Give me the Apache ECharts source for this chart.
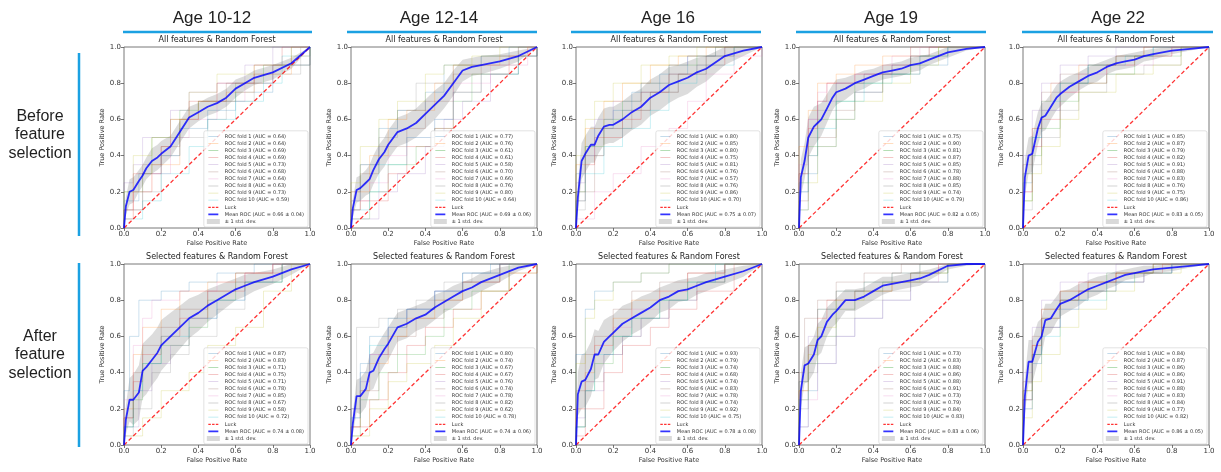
<!DOCTYPE html>
<html><head><meta charset="utf-8">
<script src="https://cdn.jsdelivr.net/npm/echarts@6/dist/echarts.min.js"></script>
<style>html,body{margin:0;padding:0;background:#fff}#c{width:1221px;height:472px}</style>
</head><body><div id="c"></div>
<script>
// ---------- text ----------
const ageLabels = ['Age 10-12', 'Age 12-14', 'Age 16', 'Age 19', 'Age 22'];
const rowLabels = ['Before\nfeature\nselection', 'After\nfeature\nselection'];
const panelTitles = ['All features & Random Forest', 'Selected features & Random Forest'];
const tickValues = [0, 0.2, 0.4, 0.6, 0.8, 1.0];
const luck = [[0, 0], [1, 1]];

// ---------- mean ROC (common FPR grid) ----------
const fpr = [0, 0.01, 0.03, 0.05, 0.08, 0.1, 0.12, 0.15, 0.18, 0.2, 0.25, 0.3, 0.35, 0.4, 0.45, 0.5, 0.55, 0.6, 0.65, 0.7, 0.8, 0.9, 1.0];

const meanTprBefore = [
  [0,0.12,0.2,0.21,0.26,0.29,0.33,0.37,0.39,0.41,0.45,0.53,0.61,0.64,0.67,0.69,0.72,0.77,0.8,0.83,0.86,0.91,1],
  [0,0.11,0.21,0.22,0.25,0.27,0.32,0.38,0.42,0.46,0.53,0.55,0.58,0.63,0.68,0.73,0.8,0.87,0.89,0.9,0.92,0.95,1],
  [0,0.17,0.37,0.41,0.46,0.46,0.51,0.56,0.57,0.57,0.6,0.64,0.67,0.72,0.75,0.79,0.81,0.83,0.86,0.88,0.95,0.98,1],
  [0,0.28,0.37,0.5,0.56,0.58,0.6,0.66,0.72,0.75,0.77,0.8,0.82,0.84,0.86,0.87,0.88,0.9,0.91,0.93,0.97,0.99,1],
  [0,0.28,0.4,0.41,0.55,0.61,0.62,0.67,0.72,0.74,0.78,0.81,0.84,0.86,0.89,0.91,0.92,0.93,0.95,0.96,0.98,0.99,1]
];
const stdTprBefore = [
  [0,0.05,0.07,0.07,0.06,0.06,0.06,0.07,0.07,0.07,0.06,0.06,0.06,0.05,0.05,0.05,0.05,0.05,0.04,0.04,0.04,0.03,0],
  [0,0.05,0.07,0.07,0.07,0.08,0.08,0.08,0.08,0.08,0.08,0.08,0.08,0.08,0.08,0.07,0.07,0.06,0.05,0.05,0.04,0.03,0],
  [0,0.08,0.1,0.1,0.1,0.1,0.1,0.1,0.1,0.1,0.1,0.1,0.1,0.1,0.1,0.1,0.09,0.09,0.08,0.07,0.05,0.03,0],
  [0,0.1,0.1,0.11,0.11,0.1,0.09,0.08,0.07,0.07,0.06,0.05,0.05,0.04,0.04,0.04,0.04,0.04,0.04,0.03,0.03,0.01,0],
  [0,0.1,0.1,0.1,0.09,0.08,0.08,0.07,0.07,0.07,0.06,0.05,0.05,0.05,0.04,0.04,0.04,0.04,0.03,0.03,0.02,0.01,0]
];
const meanTprAfter = [
  [0,0.14,0.25,0.25,0.29,0.41,0.43,0.47,0.51,0.55,0.6,0.65,0.7,0.73,0.77,0.8,0.83,0.86,0.88,0.9,0.93,0.97,1],
  [0,0.12,0.27,0.27,0.31,0.4,0.41,0.48,0.53,0.56,0.65,0.67,0.7,0.72,0.76,0.79,0.82,0.85,0.87,0.9,0.94,0.98,1],
  [0,0.28,0.35,0.36,0.42,0.5,0.5,0.57,0.6,0.62,0.67,0.7,0.73,0.76,0.8,0.82,0.85,0.86,0.88,0.9,0.93,0.96,1],
  [0,0.3,0.44,0.45,0.5,0.58,0.6,0.68,0.72,0.74,0.8,0.8,0.82,0.85,0.88,0.89,0.9,0.91,0.92,0.94,0.99,1,1],
  [0,0.27,0.46,0.46,0.57,0.6,0.69,0.7,0.75,0.78,0.8,0.83,0.86,0.88,0.9,0.92,0.94,0.95,0.96,0.97,0.98,0.99,1]
];
const stdTprAfter = [
  [0,0.08,0.12,0.14,0.15,0.15,0.15,0.14,0.14,0.14,0.13,0.12,0.11,0.1,0.09,0.08,0.07,0.06,0.06,0.05,0.04,0.03,0],
  [0,0.06,0.09,0.1,0.1,0.1,0.1,0.09,0.09,0.09,0.08,0.08,0.07,0.07,0.07,0.06,0.06,0.05,0.05,0.05,0.04,0.02,0],
  [0,0.12,0.15,0.15,0.15,0.14,0.13,0.12,0.11,0.1,0.1,0.09,0.09,0.08,0.07,0.07,0.06,0.06,0.05,0.05,0.04,0.03,0],
  [0,0.1,0.1,0.1,0.1,0.09,0.09,0.08,0.07,0.07,0.06,0.06,0.05,0.05,0.05,0.04,0.04,0.04,0.04,0.03,0.02,0.01,0],
  [0,0.1,0.12,0.12,0.11,0.1,0.09,0.08,0.07,0.07,0.06,0.06,0.05,0.05,0.04,0.04,0.03,0.03,0.03,0.02,0.02,0.01,0]
];

// ---------- legend AUC values ----------
const aucBefore = [
  ['0.64','0.64','0.69','0.69','0.73','0.68','0.64','0.63','0.73','0.59'],
  ['0.77','0.76','0.61','0.61','0.58','0.70','0.66','0.76','0.80','0.64'],
  ['0.80','0.85','0.80','0.75','0.81','0.76','0.57','0.76','0.86','0.70'],
  ['0.75','0.90','0.81','0.87','0.85','0.78','0.88','0.85','0.74','0.79'],
  ['0.85','0.87','0.79','0.82','0.91','0.88','0.83','0.76','0.75','0.86']
];
const aucAfter = [
  ['0.87','0.83','0.71','0.75','0.71','0.78','0.85','0.67','0.58','0.72'],
  ['0.80','0.74','0.67','0.67','0.76','0.74','0.78','0.82','0.62','0.78'],
  ['0.93','0.79','0.74','0.68','0.74','0.83','0.78','0.74','0.92','0.75'],
  ['0.73','0.83','0.88','0.86','0.88','0.91','0.73','0.79','0.84','0.83'],
  ['0.84','0.87','0.86','0.86','0.91','0.88','0.83','0.84','0.77','0.82']
];
const meanAucBefore = ['0.66 ± 0.04', '0.69 ± 0.06', '0.75 ± 0.07', '0.82 ± 0.05', '0.83 ± 0.05'];
const meanAucAfter = ['0.74 ± 0.08', '0.74 ± 0.06', '0.78 ± 0.08', '0.83 ± 0.06', '0.86 ± 0.05'];

// ---------- fold ROC curves (flat x,y corner pairs) ----------
const foldsBefore = [
 [
  [0,0, 0,0.15, 0.08,0.3, 0.2,0.4, 0.3,0.55, 0.45,0.65, 0.6,0.75, 0.8,0.9, 1,1],
  [0,0, 0,0.05, 0.05,0.2, 0.15,0.35, 0.3,0.6, 0.4,0.7, 0.55,0.75, 0.7,0.85, 0.9,0.95, 1,1],
  [0,0, 0,0.2, 0.1,0.3, 0.15,0.5, 0.3,0.65, 0.4,0.7, 0.6,0.8, 0.75,0.9, 1,1],
  [0,0, 0,0.1, 0.05,0.3, 0.2,0.45, 0.25,0.6, 0.35,0.7, 0.5,0.8, 0.7,0.9, 0.85,1, 1,1],
  [0,0, 0,0.25, 0.05,0.35, 0.1,0.5, 0.25,0.65, 0.35,0.75, 0.5,0.8, 0.65,0.9, 0.8,1, 1,1],
  [0,0, 0,0.1, 0.1,0.35, 0.2,0.45, 0.3,0.6, 0.4,0.7, 0.55,0.8, 0.8,0.9, 0.9,1, 1,1],
  [0,0, 0,0.05, 0.05,0.2, 0.15,0.3, 0.25,0.5, 0.35,0.6, 0.5,0.7, 0.65,0.8, 0.8,0.9, 1,1],
  [0,0, 0,0.1, 0.1,0.2, 0.2,0.4, 0.3,0.5, 0.45,0.6, 0.55,0.7, 0.7,0.85, 0.95,1, 1,1],
  [0,0, 0,0.2, 0.05,0.4, 0.15,0.5, 0.25,0.6, 0.35,0.75, 0.5,0.85, 0.7,0.9, 0.9,1, 1,1],
  [0,0, 0,0.05, 0.1,0.15, 0.2,0.3, 0.35,0.45, 0.45,0.6, 0.6,0.7, 0.75,0.8, 0.85,0.95, 1,1]
 ],
 [
  [0,0, 0,0.15, 0.05,0.35, 0.15,0.55, 0.25,0.65, 0.4,0.75, 0.5,0.9, 0.7,0.95, 0.85,1, 1,1],
  [0,0, 0,0.2, 0.1,0.4, 0.2,0.6, 0.3,0.65, 0.45,0.8, 0.55,0.9, 0.8,0.95, 0.95,1, 1,1],
  [0,0, 0,0.05, 0.1,0.2, 0.2,0.35, 0.35,0.45, 0.45,0.55, 0.55,0.7, 0.65,0.85, 0.9,0.95, 1,1],
  [0,0, 0,0.1, 0.05,0.15, 0.2,0.3, 0.3,0.45, 0.45,0.55, 0.55,0.75, 0.7,0.85, 0.85,0.95, 1,1],
  [0,0, 0,0.05, 0.15,0.2, 0.25,0.3, 0.4,0.45, 0.5,0.6, 0.6,0.7, 0.75,0.85, 0.9,0.95, 1,1],
  [0,0, 0,0.1, 0.05,0.3, 0.15,0.45, 0.3,0.55, 0.4,0.7, 0.55,0.85, 0.7,0.9, 0.9,1, 1,1],
  [0,0, 0,0.15, 0.1,0.25, 0.2,0.4, 0.3,0.5, 0.45,0.6, 0.55,0.8, 0.75,0.9, 0.95,1, 1,1],
  [0,0, 0,0.2, 0.05,0.35, 0.15,0.5, 0.25,0.65, 0.35,0.8, 0.55,0.9, 0.7,0.95, 0.9,1, 1,1],
  [0,0, 0,0.25, 0.05,0.45, 0.15,0.6, 0.25,0.7, 0.4,0.85, 0.5,0.9, 0.65,0.95, 0.8,1, 1,1],
  [0,0, 0,0.1, 0.1,0.2, 0.15,0.35, 0.3,0.5, 0.45,0.6, 0.55,0.75, 0.7,0.85, 0.9,0.95, 1,1]
 ],
 [
  [0,0, 0,0.3, 0.05,0.45, 0.1,0.55, 0.2,0.65, 0.3,0.75, 0.45,0.85, 0.6,0.95, 0.8,1, 1,1],
  [0,0, 0,0.35, 0.05,0.55, 0.15,0.7, 0.25,0.8, 0.4,0.9, 0.55,0.95, 0.7,1, 1,1],
  [0,0, 0,0.2, 0.05,0.45, 0.15,0.6, 0.25,0.7, 0.35,0.8, 0.5,0.9, 0.65,0.95, 0.75,1, 1,1],
  [0,0, 0,0.15, 0.05,0.35, 0.1,0.5, 0.25,0.6, 0.35,0.75, 0.5,0.85, 0.65,0.9, 0.8,1, 1,1],
  [0,0, 0,0.25, 0.05,0.4, 0.1,0.6, 0.2,0.7, 0.35,0.8, 0.5,0.9, 0.6,0.95, 0.75,1, 1,1],
  [0,0, 0,0.2, 0.1,0.4, 0.15,0.55, 0.3,0.65, 0.4,0.75, 0.55,0.85, 0.7,0.95, 0.85,1, 1,1],
  [0,0, 0,0.05, 0.1,0.2, 0.2,0.3, 0.35,0.45, 0.5,0.55, 0.6,0.7, 0.7,0.85, 0.85,0.95, 1,1],
  [0,0, 0,0.1, 0.05,0.4, 0.15,0.55, 0.25,0.65, 0.4,0.75, 0.55,0.85, 0.7,0.95, 0.85,1, 1,1],
  [0,0, 0,0.4, 0.05,0.6, 0.1,0.7, 0.2,0.8, 0.35,0.9, 0.5,0.95, 0.65,1, 1,1],
  [0,0, 0,0.15, 0.05,0.3, 0.15,0.45, 0.25,0.55, 0.4,0.65, 0.5,0.8, 0.65,0.9, 0.85,1, 1,1]
 ],
 [
  [0,0, 0,0.1, 0.05,0.3, 0.1,0.45, 0.2,0.6, 0.3,0.75, 0.45,0.85, 0.6,0.9, 0.8,1, 1,1],
  [0,0, 0,0.45, 0.05,0.65, 0.1,0.8, 0.2,0.85, 0.3,0.9, 0.45,0.95, 0.6,1, 1,1],
  [0,0, 0,0.25, 0.05,0.45, 0.1,0.6, 0.2,0.7, 0.3,0.8, 0.45,0.85, 0.6,0.95, 0.75,1, 1,1],
  [0,0, 0,0.3, 0.05,0.55, 0.1,0.7, 0.15,0.8, 0.3,0.85, 0.45,0.9, 0.6,0.95, 0.7,1, 1,1],
  [0,0, 0,0.2, 0.05,0.6, 0.1,0.7, 0.2,0.8, 0.35,0.85, 0.5,0.9, 0.6,1, 1,1],
  [0,0, 0,0.15, 0.05,0.4, 0.1,0.5, 0.2,0.65, 0.3,0.75, 0.45,0.85, 0.65,0.95, 0.8,1, 1,1],
  [0,0, 0,0.35, 0.05,0.6, 0.1,0.75, 0.15,0.8, 0.3,0.85, 0.5,0.95, 0.65,1, 1,1],
  [0,0, 0,0.3, 0.05,0.5, 0.1,0.65, 0.2,0.8, 0.35,0.85, 0.5,0.9, 0.6,0.95, 0.7,1, 1,1],
  [0,0, 0,0.1, 0.05,0.25, 0.1,0.45, 0.2,0.6, 0.3,0.7, 0.45,0.8, 0.6,0.9, 0.75,1, 1,1],
  [0,0, 0,0.2, 0.05,0.4, 0.1,0.55, 0.2,0.7, 0.35,0.8, 0.5,0.85, 0.65,0.95, 0.8,1, 1,1]
 ],
 [
  [0,0, 0,0.25, 0.05,0.5, 0.1,0.65, 0.2,0.8, 0.35,0.9, 0.5,0.95, 0.7,1, 1,1],
  [0,0, 0,0.3, 0.05,0.55, 0.1,0.7, 0.15,0.8, 0.3,0.9, 0.5,0.95, 0.65,1, 1,1],
  [0,0, 0,0.15, 0.05,0.4, 0.1,0.55, 0.2,0.7, 0.3,0.8, 0.45,0.85, 0.6,0.95, 0.85,1, 1,1],
  [0,0, 0,0.2, 0.05,0.45, 0.1,0.6, 0.2,0.75, 0.3,0.8, 0.45,0.9, 0.6,0.95, 0.8,1, 1,1],
  [0,0, 0,0.4, 0.05,0.65, 0.1,0.8, 0.2,0.9, 0.35,0.95, 0.5,1, 1,1],
  [0,0, 0,0.35, 0.05,0.55, 0.1,0.75, 0.2,0.85, 0.35,0.9, 0.5,0.95, 0.65,1, 1,1],
  [0,0, 0,0.2, 0.05,0.45, 0.1,0.65, 0.2,0.75, 0.3,0.85, 0.45,0.9, 0.7,0.95, 0.8,1, 1,1],
  [0,0, 0,0.1, 0.05,0.35, 0.1,0.5, 0.2,0.65, 0.3,0.75, 0.45,0.85, 0.65,0.9, 0.85,1, 1,1],
  [0,0, 0,0.15, 0.05,0.3, 0.1,0.45, 0.2,0.6, 0.3,0.75, 0.5,0.85, 0.7,0.9, 0.85,1, 1,1],
  [0,0, 0,0.3, 0.05,0.5, 0.1,0.7, 0.2,0.8, 0.35,0.9, 0.55,0.95, 0.7,1, 1,1]
 ]
];
const foldsAfter = [
 [
  [0,0, 0,0.3, 0.03,0.6, 0.08,0.8, 0.2,0.85, 0.35,0.9, 0.5,0.95, 0.7,1, 1,1],
  [0,0, 0,0.2, 0.05,0.5, 0.1,0.65, 0.2,0.75, 0.3,0.85, 0.45,0.9, 0.6,0.95, 0.8,1, 1,1],
  [0,0, 0,0.1, 0.05,0.25, 0.1,0.45, 0.2,0.55, 0.35,0.65, 0.45,0.8, 0.6,0.9, 0.85,1, 1,1],
  [0,0, 0,0.15, 0.05,0.35, 0.1,0.5, 0.2,0.6, 0.3,0.7, 0.45,0.85, 0.65,0.95, 0.85,1, 1,1],
  [0,0, 0,0.1, 0.08,0.3, 0.15,0.45, 0.25,0.55, 0.35,0.7, 0.5,0.8, 0.65,0.9, 0.8,1, 1,1],
  [0,0, 0,0.15, 0.05,0.4, 0.1,0.55, 0.2,0.65, 0.3,0.75, 0.45,0.85, 0.6,0.95, 0.8,1, 1,1],
  [0,0, 0,0.25, 0.05,0.55, 0.1,0.7, 0.15,0.8, 0.3,0.85, 0.5,0.9, 0.65,0.95, 0.8,1, 1,1],
  [0,0, 0,0.05, 0.05,0.2, 0.15,0.4, 0.25,0.5, 0.35,0.6, 0.5,0.75, 0.65,0.9, 0.85,1, 1,1],
  [0,0, 0,0.05, 0.1,0.15, 0.2,0.3, 0.35,0.4, 0.45,0.55, 0.6,0.65, 0.75,0.85, 0.9,1, 1,1],
  [0,0, 0,0.1, 0.05,0.3, 0.1,0.45, 0.2,0.6, 0.35,0.7, 0.5,0.8, 0.65,0.9, 0.85,1, 1,1]
 ],
 [
  [0,0, 0,0.2, 0.05,0.45, 0.1,0.6, 0.2,0.7, 0.3,0.75, 0.45,0.85, 0.6,0.95, 0.75,1, 1,1],
  [0,0, 0,0.1, 0.05,0.3, 0.1,0.45, 0.2,0.6, 0.3,0.7, 0.45,0.8, 0.6,0.9, 0.8,1, 1,1],
  [0,0, 0,0.05, 0.05,0.25, 0.15,0.4, 0.25,0.5, 0.4,0.6, 0.5,0.75, 0.65,0.85, 0.85,1, 1,1],
  [0,0, 0,0.1, 0.1,0.25, 0.2,0.4, 0.3,0.55, 0.4,0.65, 0.55,0.75, 0.7,0.85, 0.85,0.95, 1,1],
  [0,0, 0,0.15, 0.05,0.35, 0.1,0.5, 0.2,0.65, 0.3,0.75, 0.45,0.85, 0.6,0.9, 0.8,1, 1,1],
  [0,0, 0,0.1, 0.05,0.3, 0.15,0.5, 0.25,0.6, 0.35,0.7, 0.5,0.8, 0.6,0.9, 0.8,1, 1,1],
  [0,0, 0,0.2, 0.05,0.4, 0.1,0.5, 0.2,0.65, 0.3,0.75, 0.45,0.85, 0.6,0.95, 0.8,1, 1,1],
  [0,0, 0,0.2, 0.03,0.65, 0.15,0.7, 0.25,0.75, 0.35,0.8, 0.5,0.9, 0.65,0.95, 0.8,1, 1,1],
  [0,0, 0,0.05, 0.1,0.2, 0.2,0.35, 0.3,0.45, 0.45,0.55, 0.55,0.7, 0.7,0.85, 0.85,0.95, 1,1],
  [0,0, 0,0.15, 0.05,0.4, 0.1,0.55, 0.2,0.65, 0.3,0.75, 0.45,0.85, 0.6,0.95, 0.8,1, 1,1]
 ],
 [
  [0,0, 0,0.5, 0.05,0.75, 0.1,0.85, 0.2,0.9, 0.35,0.95, 0.5,1, 1,1],
  [0,0, 0,0.2, 0.05,0.4, 0.1,0.55, 0.2,0.7, 0.3,0.8, 0.45,0.85, 0.6,0.95, 0.8,1, 1,1],
  [0,0, 0,0.1, 0.05,0.3, 0.1,0.45, 0.2,0.6, 0.3,0.7, 0.45,0.8, 0.6,0.9, 0.8,1, 1,1],
  [0,0, 0,0.05, 0.05,0.2, 0.15,0.4, 0.25,0.55, 0.4,0.65, 0.5,0.75, 0.65,0.85, 0.85,1, 1,1],
  [0,0, 0,0.15, 0.05,0.3, 0.15,0.5, 0.25,0.6, 0.35,0.7, 0.5,0.8, 0.65,0.9, 0.8,1, 1,1],
  [0,0, 0,0.3, 0.05,0.5, 0.1,0.6, 0.2,0.75, 0.3,0.85, 0.45,0.9, 0.6,0.95, 0.8,1, 1,1],
  [0,0, 0,0.2, 0.05,0.35, 0.1,0.55, 0.2,0.65, 0.3,0.75, 0.45,0.85, 0.6,0.95, 0.8,1, 1,1],
  [0,0, 0,0.1, 0.05,0.35, 0.15,0.5, 0.25,0.6, 0.35,0.7, 0.5,0.8, 0.65,0.9, 0.8,1, 1,1],
  [0,0, 0,0.45, 0.05,0.7, 0.1,0.8, 0.2,0.9, 0.35,0.95, 0.5,1, 1,1],
  [0,0, 0,0.1, 0.05,0.3, 0.1,0.5, 0.2,0.6, 0.3,0.7, 0.45,0.8, 0.6,0.9, 0.75,1, 1,1]
 ],
 [
  [0,0, 0,0.1, 0.05,0.3, 0.1,0.45, 0.2,0.6, 0.3,0.7, 0.45,0.8, 0.6,0.9, 0.8,1, 1,1],
  [0,0, 0,0.25, 0.05,0.45, 0.1,0.6, 0.2,0.75, 0.3,0.85, 0.45,0.9, 0.6,0.95, 0.8,1, 1,1],
  [0,0, 0,0.35, 0.05,0.55, 0.1,0.75, 0.2,0.85, 0.35,0.9, 0.5,0.95, 0.65,1, 1,1],
  [0,0, 0,0.3, 0.05,0.55, 0.1,0.7, 0.15,0.8, 0.3,0.85, 0.5,0.9, 0.6,0.95, 0.75,1, 1,1],
  [0,0, 0,0.35, 0.05,0.6, 0.1,0.75, 0.2,0.85, 0.35,0.9, 0.5,0.95, 0.65,1, 1,1],
  [0,0, 0,0.4, 0.03,0.7, 0.1,0.8, 0.2,0.9, 0.35,0.95, 0.55,1, 1,1],
  [0,0, 0,0.1, 0.05,0.25, 0.1,0.45, 0.2,0.6, 0.3,0.7, 0.45,0.8, 0.6,0.9, 0.75,1, 1,1],
  [0,0, 0,0.2, 0.05,0.4, 0.1,0.55, 0.2,0.7, 0.3,0.8, 0.45,0.85, 0.6,0.9, 0.8,1, 1,1],
  [0,0, 0,0.3, 0.05,0.5, 0.1,0.65, 0.2,0.8, 0.35,0.85, 0.5,0.9, 0.65,0.95, 0.8,1, 1,1],
  [0,0, 0,0.25, 0.05,0.45, 0.1,0.6, 0.2,0.75, 0.3,0.85, 0.45,0.9, 0.6,0.95, 0.8,1, 1,1]
 ],
 [
  [0,0, 0,0.25, 0.05,0.5, 0.1,0.65, 0.2,0.8, 0.35,0.85, 0.5,0.9, 0.65,0.95, 0.8,1, 1,1],
  [0,0, 0,0.3, 0.05,0.55, 0.1,0.75, 0.2,0.85, 0.35,0.9, 0.5,0.95, 0.7,1, 1,1],
  [0,0, 0,0.3, 0.05,0.5, 0.1,0.7, 0.2,0.8, 0.3,0.85, 0.45,0.95, 0.7,1, 1,1],
  [0,0, 0,0.25, 0.05,0.55, 0.1,0.7, 0.2,0.8, 0.3,0.9, 0.5,0.95, 0.75,1, 1,1],
  [0,0, 0,0.4, 0.05,0.65, 0.1,0.8, 0.2,0.9, 0.35,0.95, 0.5,1, 1,1],
  [0,0, 0,0.35, 0.05,0.6, 0.1,0.75, 0.2,0.85, 0.35,0.9, 0.5,0.95, 0.7,1, 1,1],
  [0,0, 0,0.2, 0.05,0.45, 0.1,0.65, 0.2,0.75, 0.3,0.85, 0.45,0.9, 0.65,0.95, 0.8,1, 1,1],
  [0,0, 0,0.25, 0.05,0.5, 0.1,0.65, 0.2,0.8, 0.35,0.85, 0.5,0.9, 0.65,0.95, 0.8,1, 1,1],
  [0,0, 0,0.15, 0.05,0.35, 0.1,0.5, 0.2,0.65, 0.3,0.75, 0.45,0.85, 0.6,0.95, 0.85,1, 1,1],
  [0,0, 0,0.2, 0.05,0.45, 0.1,0.6, 0.2,0.75, 0.3,0.8, 0.45,0.9, 0.6,0.95, 0.8,1, 1,1]
 ]
];

// ---------- layout & style ----------
const TAB10 = ['#1f77b4','#ff7f0e','#2ca02c','#d62728','#9467bd','#8c564b','#e377c2','#7f7f7f','#bcbd22','#17becf'];
const COL_LEFT = [124, 351, 576, 799, 1023];
const ROW_TOP = [47, 264];
const PW = 186, PH = 181;
const MPL_FONT = 'DejaVu Sans';
const HEAD_FONT = 'Liberation Sans, Arial, sans-serif';
const BLUE = '#1ba1e2';
// legend glyphs (20x10 box; tiny corner specks fix the box so the stroke stays thin)
const BOX = 'M0,0L0.01,0L0,0.01Z M20,10L19.99,10L20,9.99Z ';
const ICON_THIN = 'path://' + BOX + 'M0,4.2H20V5.8H0Z';
const ICON_THICK = 'path://' + BOX + 'M0,3.3H20V6.7H0Z';
const ICON_DASH = 'path://' + BOX + 'M0,3.8H5V6.2H0Z M7.5,3.8H12.5V6.2H7.5Z M15,3.8H20V6.2H15Z';

const grid = [], xAxis = [], yAxis = [], series = [], legend = [], graphic = [];

function addPanel(r, c, folds, aucs, meanTpr, stdTpr, meanAuc) {
  const gi = grid.length;
  const left = COL_LEFT[c], top = ROW_TOP[r];
  grid.push({ left: left, top: top, width: PW, height: PH, show: true, borderColor: '#555', borderWidth: 0.8, backgroundColor: 'rgba(0,0,0,0)' });
  const lbl = { fontSize: 7, color: '#333', fontFamily: MPL_FONT, margin: 3, formatter: v => v.toFixed(1) };
  const tick = { show: true, length: 3, lineStyle: { color: '#555', width: 0.8 } };
  xAxis.push({ type: 'value', gridIndex: gi, min: 0, max: 1, interval: 0.2,
    name: 'False Positive Rate', nameLocation: 'middle', nameGap: 12,
    nameTextStyle: { fontSize: 6.5, color: '#333', fontFamily: MPL_FONT },
    axisLine: { show: false }, axisTick: tick, axisLabel: lbl, splitLine: { show: false } });
  yAxis.push({ type: 'value', gridIndex: gi, min: 0, max: 1, interval: 0.2,
    name: 'True Positive Rate', nameLocation: 'middle', nameGap: 18, nameRotate: 90,
    nameTextStyle: { fontSize: 6.5, color: '#333', fontFamily: MPL_FONT },
    axisLine: { show: false }, axisTick: tick, axisLabel: lbl, splitLine: { show: false } });

  const legendData = [];
  folds.forEach((f, k) => {
    const pts = [];
    for (let i = 0; i < f.length; i += 2) pts.push([f[i], f[i + 1]]);
    const nm = 'ROC fold ' + (k + 1) + ' (AUC = ' + aucs[k] + ')';
    legendData.push({ name: nm, icon: ICON_THIN, itemStyle: { color: TAB10[k], opacity: 0.35 } });
    series.push({ type: 'line', name: nm, xAxisIndex: gi, yAxisIndex: gi, data: pts, step: 'end',
      symbol: 'none', silent: true, lineStyle: { color: TAB10[k], width: 0.9, opacity: 0.25 }, itemStyle: { color: TAB10[k] } });
  });
  series.push({ type: 'line', name: 'Luck', xAxisIndex: gi, yAxisIndex: gi, data: luck, symbol: 'none', silent: true,
    lineStyle: { color: 'rgba(255,0,0,0.8)', width: 1.3, type: [4, 2.5] }, itemStyle: { color: 'rgba(255,0,0,0.8)' } });
  legendData.push({ name: 'Luck', icon: ICON_DASH, itemStyle: { color: 'rgba(255,0,0,0.8)' } });
  const meanName = 'Mean ROC (AUC = ' + meanAuc + ')';
  series.push({ type: 'line', name: meanName, xAxisIndex: gi, yAxisIndex: gi,
    data: fpr.map((x, i) => [x, meanTpr[i]]), symbol: 'none', silent: true,
    lineStyle: { color: 'rgba(0,0,255,0.8)', width: 1.8 }, itemStyle: { color: 'rgba(0,0,255,0.8)' } });
  legendData.push({ name: meanName, icon: ICON_THICK, itemStyle: { color: 'rgba(0,0,255,0.8)' } });

  const lower = fpr.map((x, i) => Math.max(meanTpr[i] - stdTpr[i], 0));
  const upper = fpr.map((x, i) => Math.min(meanTpr[i] + stdTpr[i], 1));
  series.push({ type: 'custom', name: '± 1 std. dev.', xAxisIndex: gi, yAxisIndex: gi, silent: true,
    data: fpr.map((x, i) => [x, lower[i], upper[i]]), encode: { x: 0, y: [1, 2] },
    itemStyle: { color: 'rgba(128,128,128,0.3)' },
    renderItem: function (params, api) {
      if (params.dataIndex !== 0) return null;
      const poly = [];
      for (let i = 0; i < fpr.length; i++) poly.push(api.coord([fpr[i], upper[i]]));
      for (let i = fpr.length - 1; i >= 0; i--) poly.push(api.coord([fpr[i], lower[i]]));
      return { type: 'polygon', shape: { points: poly }, style: { fill: 'rgba(128,128,128,0.28)' } };
    } });
  legendData.push({ name: '± 1 std. dev.', icon: 'rect', itemStyle: { color: 'rgba(128,128,128,0.3)' } });

  legend.push({ orient: 'vertical', right: 1221 - (left + PW - 2), bottom: 472 - (top + PH - 1),
    selectedMode: false, itemWidth: 13, itemHeight: 5, itemGap: 2.1, padding: [3, 4, 3, 3],
    backgroundColor: 'rgba(255,255,255,0.8)', borderColor: '#cfcfcf', borderWidth: 0.6, borderRadius: 2,
    textStyle: { fontSize: 5, lineHeight: 5, color: '#333', fontFamily: MPL_FONT },
    data: legendData });

  graphic.push({ type: 'text', x: left + PW / 2, y: top - 7, silent: true,
    style: { text: panelTitles[r], fontSize: 8, fontFamily: MPL_FONT, fill: '#222', align: 'center', verticalAlign: 'middle', textAlign: 'center', textVerticalAlign: 'middle' } });
}

for (let c = 0; c < 5; c++) addPanel(0, c, foldsBefore[c], aucBefore[c], meanTprBefore[c], stdTprBefore[c], meanAucBefore[c]);
for (let c = 0; c < 5; c++) addPanel(1, c, foldsAfter[c], aucAfter[c], meanTprAfter[c], stdTprAfter[c], meanAucAfter[c]);

// column headers with blue rules
const headCenter = [212, 439, 668, 891, 1118];
const headRule = [[123, 312], [347, 537], [571, 761], [796, 986], [1022, 1213]];
ageLabels.forEach((t, c) => {
  graphic.push({ type: 'text', x: headCenter[c], y: 18, silent: true,
    style: { text: t, fontSize: 17, fontFamily: HEAD_FONT, fill: '#1f1f1f', align: 'center', verticalAlign: 'middle', textAlign: 'center', textVerticalAlign: 'middle' } });
  graphic.push({ type: 'line', silent: true, shape: { x1: headRule[c][0], y1: 32, x2: headRule[c][1], y2: 32 },
    style: { stroke: BLUE, lineWidth: 2.5 } });
});
// row headers with blue rules
const rowCenter = [135, 355];
const rowRule = [[53, 236], [263, 447]];
rowLabels.forEach((t, r) => {
  graphic.push({ type: 'text', x: 40, y: rowCenter[r], silent: true,
    style: { text: t, fontSize: 16, lineHeight: 18.5, fontFamily: HEAD_FONT, fill: '#1f1f1f', align: 'center', verticalAlign: 'middle', textAlign: 'center', textVerticalAlign: 'middle' } });
  graphic.push({ type: 'line', silent: true, shape: { x1: 79, y1: rowRule[r][0], x2: 79, y2: rowRule[r][1] },
    style: { stroke: BLUE, lineWidth: 2.5 } });
});

const chart = echarts.init(document.getElementById('c'), null, { renderer: 'canvas' });
chart.setOption({ animation: false, backgroundColor: '#fff', grid, xAxis, yAxis, series, legend, graphic });
</script>
</body></html>
